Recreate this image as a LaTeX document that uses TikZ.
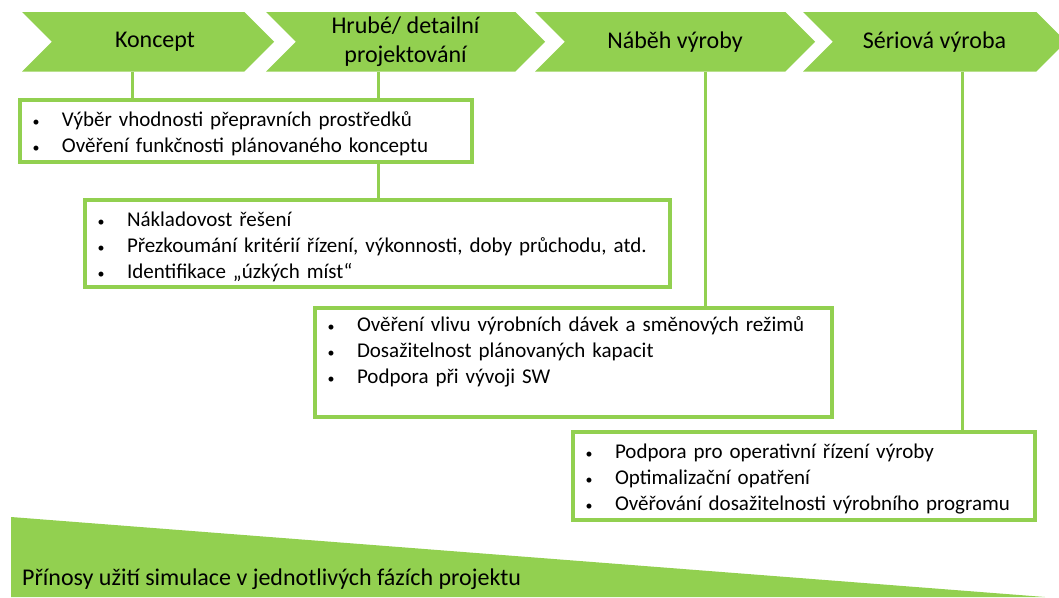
\documentclass[tikz,border=0pt]{standalone}
\usepackage{fontspec}
\setmainfont{Carlito}
\usetikzlibrary{shapes.symbols,positioning,backgrounds}
\definecolor{officegreen}{HTML}{92D050}
\tikzset{phase/.style={signal,signal to=east,signal from=west,signal pointer angle=90,fill=officegreen,draw=none,minimum height=59.5pt,inner sep=0pt,outer sep=0pt,align=center,font=\fontsize{24}{29}\selectfont},
         benefit/.style={rectangle,draw=officegreen,line width=3.5pt,fill=white,anchor=north west,inner xsep=10pt,inner ysep=0pt,outer sep=0pt,align=left,font=\fontsize{21}{26}\selectfont},
         link/.style={draw=officegreen,line width=3pt}
}
\newcommand{\lnstrut}{\rule[-6pt]{0pt}{18pt}}
\newcommand{\topstrut}{\rule{0pt}{23pt}}
\newcommand{\itm}{\lnstrut\makebox[32pt][l]{\hspace{2.5pt}\fontsize{14}{14}\selectfont\textbullet}}

\begin{document}
\begin{tikzpicture}[x=1pt,y=-1pt]
\useasboundingbox (0,0) rectangle (1059,597);

% phases
\node[phase,minimum width=252pt] (c1) at (148,41.75) {\hspace{14pt}Koncept};
\node[phase,minimum width=279pt] (c2) at (405.5,41.75) {Hrubé/ detailní\\projektování};
\node[phase,minimum width=280pt] (c3) at (675,41.75) {Náběh výroby};
\node[phase,minimum width=263pt] (c4) at (934.5,41.75) {Sériová výroba};

\coordinate (x1) at (132,0);
\coordinate (x2) at (378,0);
\coordinate (x3) at (705,0);
\coordinate (x4) at (962,0);

\node[benefit,minimum width=452pt,text width=432pt,minimum height=62pt] (b1) at (20,100)
    {\topstrut\itm Výběr vhodnosti přepravních prostředků\\
     \itm Ověření funkčnosti plánovaného konceptu};
\node[benefit,minimum width=585pt,text width=565pt,minimum height=87pt] (b2) at (85,200)
    {\topstrut\itm Nákladovost řešení\\
     \itm Přezkoumání kritérií řízení, výkonnosti, doby průchodu, atd.\\
     \itm Identifikace „úzkých míst“};
\node[benefit,minimum width=517pt,text width=497pt,minimum height=107pt] (b3) at (315,308)
    {\topstrut\itm Ověření vlivu výrobních dávek a směnových režimů\\
     \itm Dosažitelnost plánovaných kapacit\\
     \itm Podpora při vývoji SW\\[8pt]
     \mbox{}};
\node[benefit,minimum width=462pt,text width=442pt,minimum height=88pt] (b4) at (573,432)
    {\topstrut\itm Podpora pro operativní řízení výroby\\
     \itm Optimalizační opatření\\
     \itm Ověřování dosažitelnosti výrobního programu};

\begin{scope}[on background layer]
\draw[link] (c1.south -| x1) -- (b1.north -| x1);
\draw[link] (c2.south -| x2) -- (b1.north -| x2);
\draw[link] (b1.south -| x2) -- (b2.north -| x2);
\draw[link] (c3.south -| x3) -- (b3.north -| x3);
\draw[link] (c4.south -| x4) -- (b4.north -| x4);
\end{scope}

% benefits strip
\fill[officegreen] (11,517) -- (1045,597) -- (11,597) -- cycle;
\node[anchor=base west,inner sep=0pt,font=\fontsize{24}{28}\selectfont] (summary) at (22,585)
    {Přínosy užití simulace v jednotlivých fázích projektu};
\end{tikzpicture}
\end{document}
